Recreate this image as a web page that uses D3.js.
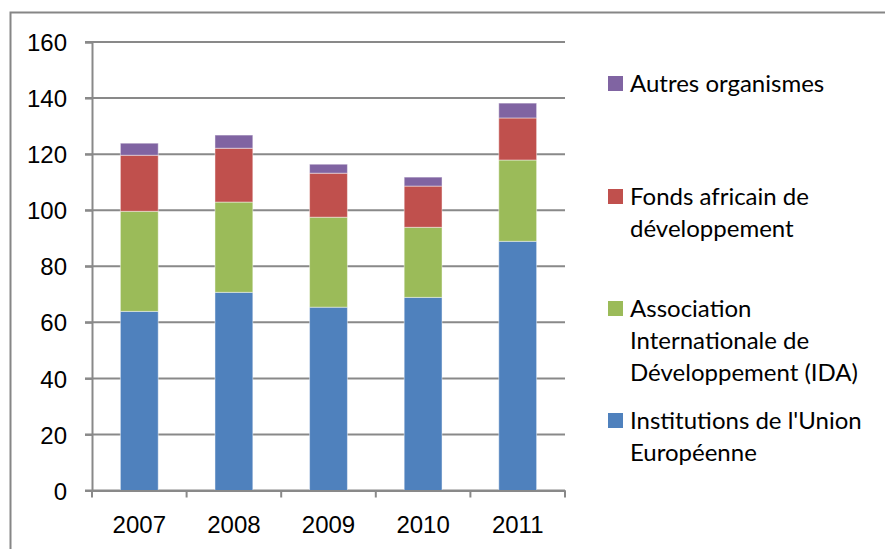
<!DOCTYPE html>
<html>
<head>
<meta charset="utf-8">
<script src="https://cdn.jsdelivr.net/npm/d3@7"></script>
<style>
  body { margin: 0; background: #fff; }
  svg { display: block; font-family: Lato, "Open Sans", sans-serif; }
  .tick text { font-size: 24px; fill: #000; }
  .legend text { font-size: 24px; fill: #000; }
</style>
</head>
<body>
<svg id="chart" width="885" height="549"></svg>
<script>
var years = ["2007", "2008", "2009", "2010", "2011"];
var euInst = [63.9, 70.7, 65.4, 68.9, 88.9];
var ida = [35.7, 32.2, 32.1, 25.0, 29.0];
var fad = [20.0, 19.2, 15.7, 14.7, 15.0];
var autres = [4.3, 4.7, 3.2, 3.2, 5.3];
var yTicks = [0, 20, 40, 60, 80, 100, 120, 140, 160];

var seriesKeys = ["eu", "ida", "fad", "autres"];
var colors = {eu: "#4f81bd", ida: "#9bbb59", fad: "#c0504d", autres: "#8064a2"};

var table = years.map(function(y, i) {
    return {year: y, eu: euInst[i], ida: ida[i], fad: fad[i], autres: autres[i]};
});

var margin = {top: 42, left: 92},
    width = 473,
    height = 448.5;

var svg = d3.select("#chart");

// cadre gris
svg.append("rect")
    .attr("x", 10.5).attr("y", 12.5)
    .attr("width", 900).attr("height", 560)
    .attr("fill", "none")
    .attr("stroke", "#868686")
    .attr("stroke-width", 2);

var g = svg.append("g")
    .attr("transform", "translate(" + margin.left + "," + margin.top + ")");

var x = d3.scaleBand()
    .domain(years)
    .range([0, width])
    .paddingInner(0.6)
    .paddingOuter(0.3);

var xTicks = d3.scaleBand().domain(years).range([0, width]);

var y = d3.scaleLinear()
    .domain([0, 160])
    .range([height, 0]);

// grille
g.selectAll(".grid")
    .data(yTicks)
    .enter()
    .append("line")
    .attr("class", "grid")
    .attr("x1", -7)
    .attr("x2", width)
    .attr("y1", function(d) { return y(d); })
    .attr("y2", function(d) { return y(d); })
    .attr("stroke", "#898989")
    .attr("stroke-width", 2);

var stack = d3.stack().keys(seriesKeys)(table);

g.selectAll(".serie")
    .data(stack)
    .enter()
    .append("g")
    .attr("class", "serie")
    .attr("fill", function(d) { return colors[d.key]; })
    .selectAll("rect")
    .data(function(d) { return d; })
    .enter()
    .append("rect")
    .attr("x", function(d) { return x(d.data.year); })
    .attr("width", x.bandwidth())
    .attr("y", function(d) { return y(d[1]); })
    .attr("height", function(d) { return y(d[0]) - y(d[1]); })
    .attr("stroke", "rgba(255,255,255,0.45)")
    .attr("stroke-width", 1);

// axe Y
var yAxis = d3.axisLeft(y).tickValues(yTicks).tickSize(7).tickPadding(18);
g.append("g")
    .attr("class", "y axis")
    .call(yAxis)
    .call(function(s) {
        s.select(".domain").attr("stroke", "#898989").attr("stroke-width", 2);
        s.selectAll(".tick line").attr("stroke", "#898989").attr("stroke-width", 2);
        s.selectAll(".tick text").attr("dy", "0.36em");
    });

// axe X
var xAxis = d3.axisBottom(xTicks).tickSize(0).tickPadding(25);
var xg = g.append("g")
    .attr("class", "x axis")
    .attr("transform", "translate(0," + height + ")")
    .call(xAxis);
xg.select(".domain").attr("stroke", "#898989").attr("stroke-width", 2);
xg.selectAll(".tick text").attr("dy", "0.71em");
xg.selectAll(".xt")
    .data(years.concat(["end"]))
    .enter()
    .append("line")
    .attr("class", "xt")
    .attr("x1", function(d, i) { return i * xTicks.step(); })
    .attr("x2", function(d, i) { return i * xTicks.step(); })
    .attr("y1", 0)
    .attr("y2", 7)
    .attr("stroke", "#898989")
    .attr("stroke-width", 2);

// légende
var legendItems = [
    {key: "autres", y: 76, lines: ["Autres organismes"]},
    {key: "fad", y: 189, lines: ["Fonds africain de", "développement"]},
    {key: "ida", y: 301, lines: ["Association", "Internationale de", "Développement (IDA)"]},
    {key: "eu", y: 413, lines: ["Institutions de l'Union", "Européenne"]}
];

var legend = svg.append("g").attr("class", "legend");
var li = legend.selectAll("g")
    .data(legendItems)
    .enter()
    .append("g")
    .attr("transform", function(d) { return "translate(608," + d.y + ")"; });

li.append("rect")
    .attr("width", 15)
    .attr("height", 15)
    .attr("fill", function(d) { return colors[d.key]; });

li.append("text")
    .attr("x", 22)
    .attr("y", 16)
    .selectAll("tspan")
    .data(function(d) { return d.lines; })
    .enter()
    .append("tspan")
    .attr("x", 22)
    .attr("dy", function(d, i) { return i === 0 ? 0 : 32; })
    .text(function(d) { return d; });
</script>
</body>
</html>
